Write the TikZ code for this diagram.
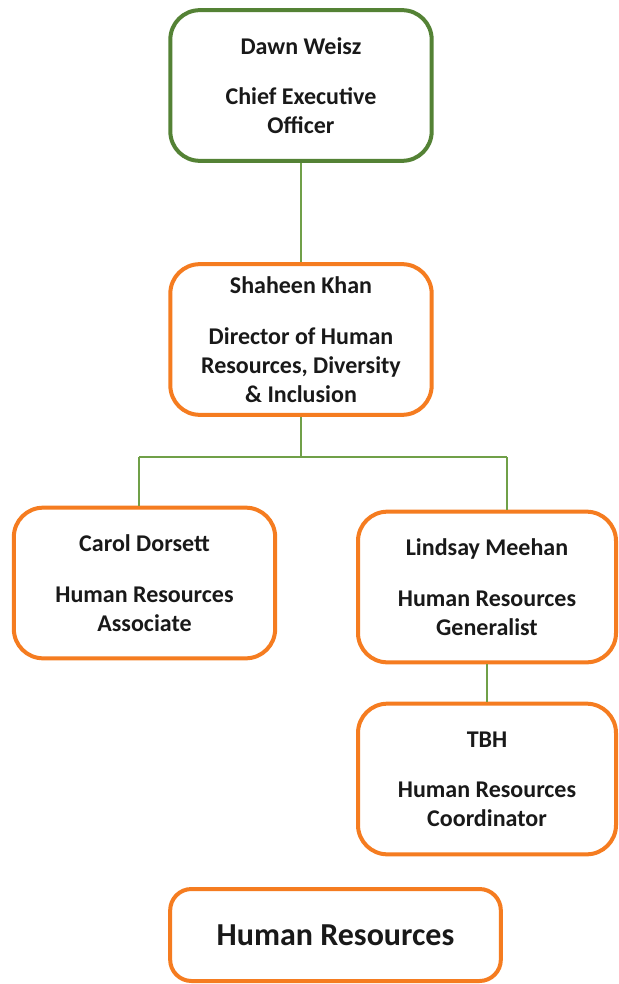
\documentclass[tikz,border=0pt]{standalone}
\usepackage{fontspec}
\setmainfont{Carlito}
\definecolor{ceogreen}{RGB}{84,130,53}
\definecolor{hrorange}{RGB}{245,124,32}
\definecolor{linkgreen}{RGB}{112,160,72}

\begin{document}
\begin{tikzpicture}[x=0.75pt,y=-0.75pt,
box/.style={draw=hrorange,line width=3pt,rounded corners=22pt,fill=white,
  align=center,text=black!90,font=\bfseries\fontsize{18}{21.75}\selectfont,
  minimum width=196pt,minimum height=113pt,inner sep=0pt},
link/.style={draw=linkgreen,line width=1.1pt}]
\useasboundingbox (0,0) rectangle (618,984);

    \node[box,draw=ceogreen] (CEO) at (301,85.5)
      {Dawn Weisz\\[16pt]Chief Executive\\Officer};
    \node[box] (Dir) at (301,339.5)
      {Shaheen Khan\\[16pt]Director of Human\\Resources, Diversity\\\& Inclusion};
    \node[box] (Carol) at (144.5,583)
      {Carol Dorsett\\[16pt]Human Resources\\Associate};
    \node[box,minimum width=193.5pt] (Lind) at (487,587)
      {Lindsay Meehan\\[16pt]Human Resources\\Generalist};
    \node[box,minimum width=193.5pt] (TBH) at (487,779)
      {TBH\\[16pt]Human Resources\\Coordinator};
    \node[box,font=\bfseries\fontsize{24}{29}\selectfont,minimum width=248pt,
      minimum height=69pt,rounded corners=16pt] (HR) at (335.5,935) {Human Resources};

    % connectors
    \coordinate (SplitL) at (139,457);
    \coordinate (SplitR) at (507,457);
    \draw[link] (CEO) -- (Dir);
    \draw[link] (Dir) -- (Dir |- SplitL);
    \draw[link] (SplitL) -- (SplitR);
    \draw[link] (SplitL) -- (SplitL |- Carol.north);
    \draw[link] (SplitR) -- (SplitR |- Lind.north);
    \draw[link] (Lind) -- (TBH);

\end{tikzpicture}
\end{document}
